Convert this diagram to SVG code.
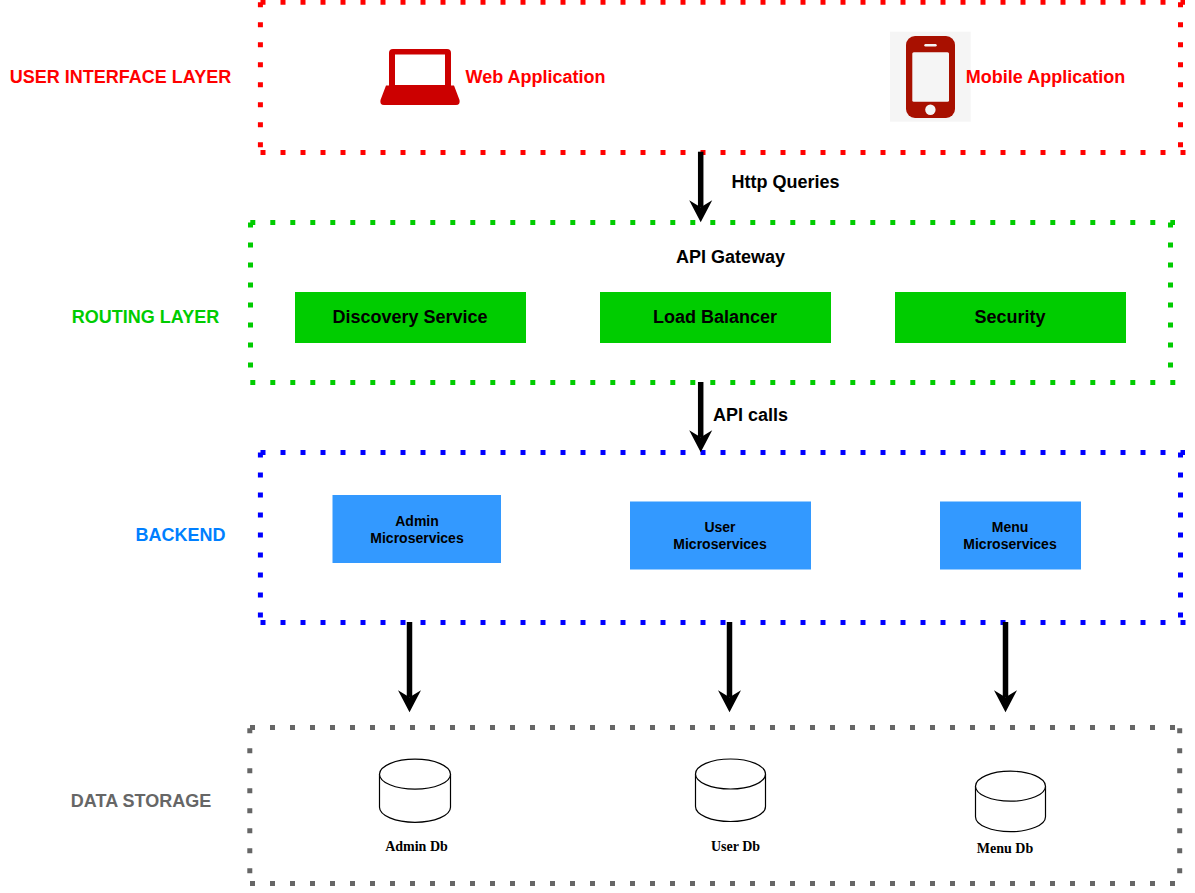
<svg xmlns="http://www.w3.org/2000/svg" width="1195" height="893" viewBox="0 0 1195 893">
<style>
text{font-family:"Liberation Sans",Arial,sans-serif;font-weight:bold;text-anchor:middle}
.layer{fill:none;stroke-width:5;stroke-dasharray:5 15}
.lbl{font-size:18px}
.blk{font-size:18px;fill:#000}
.ms{font-size:14px;fill:#000}
.db{font-family:"Liberation Serif","Times New Roman",serif;font-size:14px;fill:#000}
.conn{fill:none;stroke:#000;stroke-width:5.500}
.cyl{fill:#fff;stroke:#000;stroke-width:1.2}
.g{fill:#00cc00}
.b{fill:#3399ff}
</style>
<defs>
<path id="head" d="M0 0.300L-11.500 -21.700L0 -14.800L11.500 -21.700Z"/>
</defs>
<g id="layer-ui"><path class="layer" stroke="#ff0000" d="M260.500 2.300H1185M1180.500 2.300V150M260.500 152.500H1185.500M260.400 2.300V150"/><text class="lbl" x="120.500" y="83" fill="#ff0000">USER INTERFACE LAYER</text></g>
<g id="web-app"><path fill="#cc0000" d="M393 49H447Q451 49 451 53V85.500H454L459.500 100Q460.500 105 456 105H384Q379.500 105 380.500 100L386 85.500H389V53Q389 49 393 49Z"/><rect x="395" y="54.500" width="50" height="30.500" fill="#fff"/><text class="lbl" x="535.500" y="83" fill="#ff0000">Web Application</text></g>
<g id="mobile-app"><rect x="890" y="31.700" width="80.700" height="90" fill="#f5f5f5"/><rect x="906" y="36" width="49" height="82" rx="9" fill="#a81000"/><rect x="912.300" y="52.300" width="36.700" height="49.400" rx="1.500" fill="#f5f5f5"/><rect x="924.300" y="44" width="12.400" height="2.400" rx="1.200" fill="#f5f5f5"/><circle cx="930.400" cy="109.700" r="5.200" fill="#f5f5f5"/><text class="lbl" x="1045.500" y="83" fill="#ff0000">Mobile Application</text></g>
<g id="layer-routing"><path class="layer" stroke="#00cc00" d="M250.300 222.500H1175M1170.500 222.500V380M250.300 382.500H1175.300M250.500 222.500V380"/><text class="lbl" x="145.500" y="323" fill="#00cc00">ROUTING LAYER</text><text class="lbl" x="730.500" y="263" fill="#000">API Gateway</text></g>
<g id="discovery"><rect class="g" x="295" y="292" width="231" height="51"/><text class="blk" x="410" y="323">Discovery Service</text></g>
<g id="balancer"><rect class="g" x="600" y="292" width="231" height="51"/><text class="blk" x="715" y="323">Load Balancer</text></g>
<g id="security"><rect class="g" x="895" y="292" width="231" height="51"/><text class="blk" x="1010" y="323">Security</text></g>
<g id="layer-backend"><path class="layer" stroke="#0000ff" d="M260.500 452.500H1185M1180.500 452.500V620M260.500 622.500H1185.500M260.400 452.500V620"/><text class="lbl" x="180.500" y="541" fill="#007fff">BACKEND</text></g>
<g id="admin-ms"><rect class="b" x="332.500" y="495" width="168.500" height="68"/><text class="ms" x="417" y="526">Admin</text><text class="ms" x="417" y="543">Microservices</text></g>
<g id="user-ms"><rect class="b" x="630" y="501.500" width="181" height="68"/><text class="ms" x="720" y="532">User</text><text class="ms" x="720" y="549">Microservices</text></g>
<g id="menu-ms"><rect class="b" x="940" y="501.500" width="141" height="68"/><text class="ms" x="1010" y="532">Menu</text><text class="ms" x="1010" y="549">Microservices</text></g>
<g id="layer-data"><path class="layer" stroke="#666666" d="M250 727.500H1175M1179.700 728.300V880M250 883.500H1175.300M249.800 728.300V880"/><text class="lbl" x="141" y="807" fill="#666666">DATA STORAGE</text></g>
<g id="admin-db"><path class="cyl" d="M379.500 774V807.300A35.500 15 0 0 0 450.500 807.300V774"/><ellipse class="cyl" cx="415" cy="774.200" rx="35.500" ry="15"/><text class="db" x="416.500" y="851">Admin Db</text></g>
<g id="user-db"><path class="cyl" d="M695.500 774V806.500A35 15 0 0 0 765.500 806.500V774"/><ellipse class="cyl" cx="730.500" cy="774" rx="35" ry="15"/><text class="db" x="735.500" y="851">User Db</text></g>
<g id="menu-db"><path class="cyl" d="M975.500 786V816.700A35 15 0 0 0 1045.500 816.700V786"/><ellipse class="cyl" cx="1010.500" cy="786.200" rx="35" ry="15"/><text class="db" x="1005" y="853">Menu Db</text></g>
<g id="connectors">
<path class="conn" d="M700.700 151.700V207"/><use href="#head" x="700.700" y="222"/>
<path class="conn" d="M700.700 382V437"/><use href="#head" x="700.700" y="452"/>
<path class="conn" d="M409.500 622V697"/><use href="#head" x="409.500" y="712"/>
<path class="conn" d="M729.500 622V697"/><use href="#head" x="729.500" y="712"/>
<path class="conn" d="M1005.500 622V697"/><use href="#head" x="1005.500" y="712"/>
</g>
<text class="lbl" x="785.500" y="188" fill="#000">Http Queries</text>
<text class="lbl" x="750.500" y="421" fill="#000">API calls</text>
</svg>
